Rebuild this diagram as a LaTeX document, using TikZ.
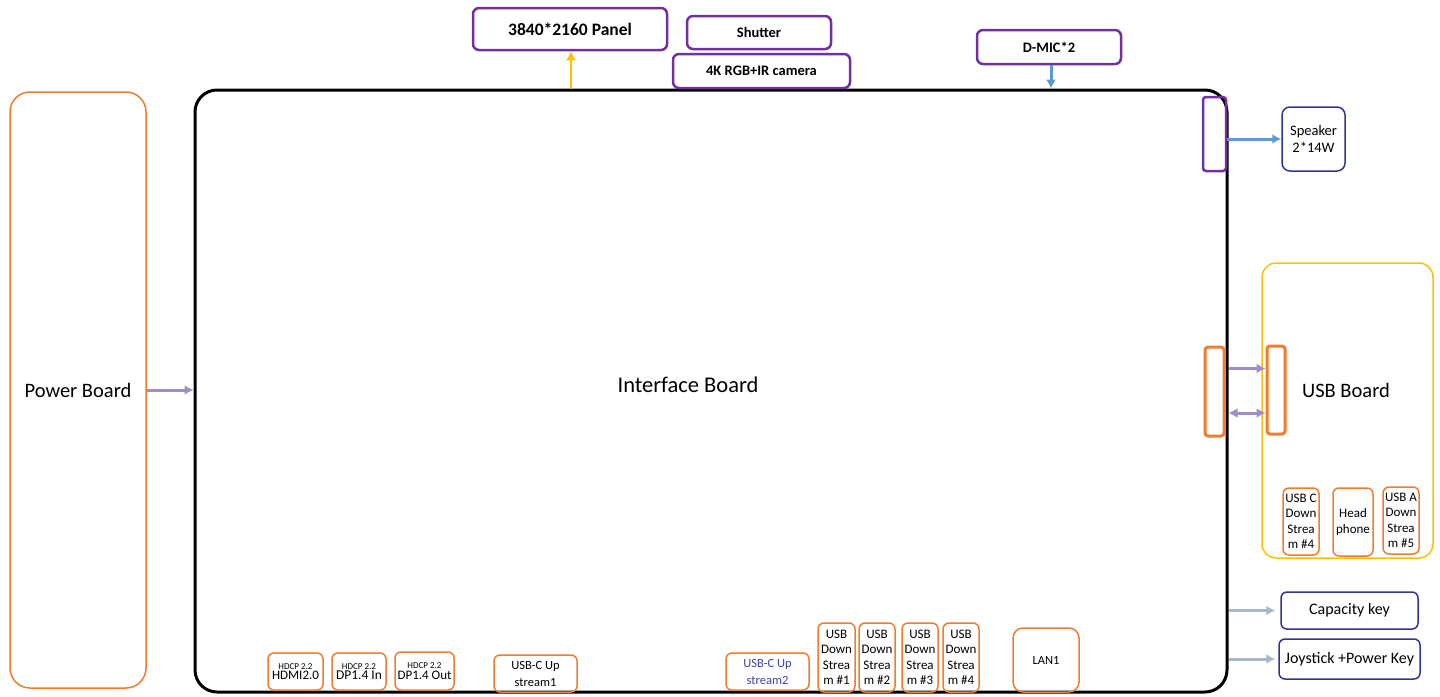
\documentclass[tikz,border=0pt]{standalone}
\usepackage{fontspec}
\setmainfont{Carlito}
\usetikzlibrary{arrows.meta}
\definecolor{borange}{HTML}{ED7D31}
\definecolor{bpurple}{HTML}{7030A0}
\definecolor{bnavy}{HTML}{2F3590}
\definecolor{byellow}{HTML}{FFC000}
\definecolor{lpurple}{HTML}{A08CC8}
\definecolor{lblue}{HTML}{5B9BD5}
\definecolor{lgray}{HTML}{A7B8C6}
\definecolor{txtblue}{HTML}{3A44A8}
\tikzset{
  box/.style={draw, rounded corners=6pt, inner sep=0pt, align=center, font=\fontsize{13}{15.5}\selectfont},
  obox/.style={box, draw=borange, line width=1.5pt},
  pbox/.style={box, draw=bpurple, line width=2.5pt, font=\bfseries\fontsize{15}{17}\selectfont},
  nbox/.style={box, draw=bnavy, line width=1.5pt, rounded corners=8pt, font=\fontsize{16}{17}\selectfont},
  arr/.style={line width=3pt, -{Latex[length=9pt,width=10pt]}},
}
\begin{document}
\begin{tikzpicture}[x=1pt,y=-1pt]
\useasboundingbox (0,0) rectangle (1440,696);
% big boards
\node[obox, rounded corners=20pt, minimum width=136pt, minimum height=596pt, font=\fontsize{20.5}{22}\selectfont] (power) at (78,390) {Power Board};
\node[draw=black, line width=3pt, rounded corners=22pt, minimum width=1032pt, minimum height=602pt, inner sep=0pt] (iface) at (711,391) {};
\node[font=\fontsize{22.5}{24}\selectfont] (ifacelabel) at (688,385) {Interface Board};
% top boxes
\node[pbox, minimum width=194pt, minimum height=42pt, font=\bfseries\fontsize{17.5}{19}\selectfont] (panel) at (570,29) {3840*2160 Panel};
\node[pbox, minimum width=144pt, minimum height=33pt, font=\bfseries\fontsize{14.5}{16}\selectfont] (shutter) at (759,32.5) {Shutter};
\node[pbox, minimum width=177pt, minimum height=34pt, font=\bfseries\fontsize{14.5}{16}\selectfont] (camera) at (761.5,71) {4K RGB+IR camera};
\node[pbox, minimum width=144pt, minimum height=34pt, font=\bfseries\fontsize{14.5}{16}\selectfont] (dmic) at (1049,47) {D-MIC*2};
% speaker
\node[box, draw=bpurple, line width=2.5pt, rounded corners=3pt, minimum width=23pt, minimum height=74pt] (spkconn) at (1214.5,134) {};
\node[nbox, minimum width=63pt, minimum height=64pt, font=\fontsize{14.5}{17}\selectfont] (speaker) at (1313.5,139) {Speaker\\2*14W};
% USB board
\node[box, draw=byellow, line width=1.5pt, rounded corners=14pt, minimum width=171pt, minimum height=295pt] (usbboard) at (1347.5,410.5) {};
\node[font=\fontsize{20.5}{22}\selectfont] (usblabel) at (1346,390) {USB Board};
\node[obox, line width=3pt, rounded corners=3pt, minimum width=19pt, minimum height=89pt] (usbconnL) at (1214.5,391.5) {};
\node[obox, line width=3pt, rounded corners=3pt, minimum width=18pt, minimum height=88pt] (usbconnR) at (1276,390) {};
\node[obox, minimum width=36pt, minimum height=67pt] (usbc4) at (1301,521.5) {USB C\\Down\\Strea\\m \#4};
\node[obox, minimum width=40pt, minimum height=68pt] (headphone) at (1353,522) {Head\\phone};
\node[obox, minimum width=36pt, minimum height=67pt] (usba5) at (1401,520.5) {USB A\\Down\\Strea\\m \#5};
% keys
\node[nbox, minimum width=137pt, minimum height=37pt, rounded corners=6pt] (capkey) at (1349.5,610.5) {Capacity key};
\node[nbox, minimum width=141pt, minimum height=40pt, rounded corners=6pt] (joy) at (1349.5,659) {Joystick +Power Key};
% bottom ports
\node[obox, minimum width=55pt, minimum height=37pt] (hdmi) at (295.5,671.5) {{\fontsize{9}{9}\selectfont HDCP 2.2}\\[-5pt]{\fontsize{13}{12}\selectfont HDMI2.0}};
\node[obox, minimum width=54pt, minimum height=37pt] (dpin) at (359,671.5) {{\fontsize{9}{9}\selectfont HDCP 2.2}\\[-5pt]{\fontsize{13.5}{12}\selectfont DP1.4 In}};
\node[obox, minimum width=59pt, minimum height=38pt] (dpout) at (424.5,671) {{\fontsize{9}{9}\selectfont HDCP 2.2}\\[-5pt]{\fontsize{13}{12}\selectfont DP1.4 Out}};
\node[obox, minimum width=83pt, minimum height=37pt, font=\fontsize{12.5}{17}\selectfont] (usbc1) at (535.5,673.5) {USB-C Up\\stream1};
\node[obox, minimum width=83pt, minimum height=37pt, font=\fontsize{12.5}{17}\selectfont, text=txtblue] (usbc2) at (767.5,671.5) {USB-C Up\\stream2};
\node[obox, minimum width=37pt, minimum height=69pt] (ds1) at (836.5,657.5) {USB\\Down\\Strea\\m \#1};
\node[obox, minimum width=36pt, minimum height=69pt] (ds2) at (877,657.5) {USB\\Down\\Strea\\m \#2};
\node[obox, minimum width=36pt, minimum height=69pt] (ds3) at (920,657.5) {USB\\Down\\Strea\\m \#3};
\node[obox, minimum width=36pt, minimum height=69pt] (ds4) at (961,657.5) {USB\\Down\\Strea\\m \#4};
\node[obox, rounded corners=10pt, minimum width=66pt, minimum height=64pt, font=\fontsize{12.5}{15}\selectfont] (lan) at (1046,660) {LAN1};
% connectors
\draw[arr, draw=byellow, line width=2.5pt] ([xshift=1pt]panel.south |- iface.north) -- ([xshift=1pt]panel.south);
\draw[arr, draw=lblue] ([xshift=2pt]dmic.south) -- ([xshift=2pt]dmic.south |- iface.north);
\draw[arr, draw=lpurple] (power.east) -- (power.east -| iface.west);
\draw[arr, draw=lblue] (speaker.west -| spkconn.east) -- (speaker.west);
\draw[arr, draw=lpurple] ([yshift=23pt]usbconnL.east -| iface.east) -- ([yshift=23pt]usbconnL.east -| usbconnR.west);
\draw[arr, draw=lpurple, {Latex[length=9pt,width=10pt]}-{Latex[length=9pt,width=10pt]}] ([yshift=-21.5pt]usbconnL.east -| iface.east) -- ([yshift=-21.5pt]usbconnL.east -| usbconnR.west);
\draw[arr, draw=lgray] (capkey.west -| iface.east) -- ([xshift=-5pt]capkey.west);
\draw[arr, draw=lgray] (joy.west -| iface.east) -- ([xshift=-3pt]joy.west);
\end{tikzpicture}
\end{document}
